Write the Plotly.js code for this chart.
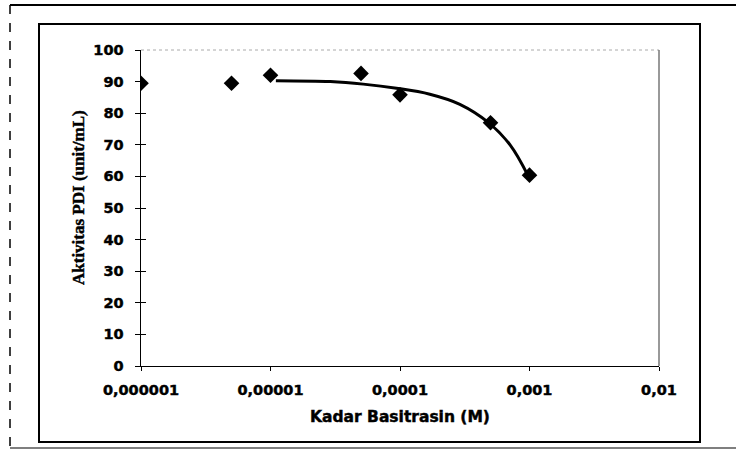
<!DOCTYPE html>
<html>
<head>
<meta charset="utf-8">
<script src="https://cdn.plot.ly/plotly-3.0.1.min.js"></script>
<style>
html,body{margin:0;padding:0;background:#fff;}
#chart{width:736px;height:450px;}
#chart text{stroke:#000;stroke-width:0.45px;}
</style>
</head>
<body>
<div id="chart"></div>
<script>
// Measured data (concentration in M, activity in unit/mL)
const concentrations = [0.000001, 0.000005, 0.00001, 0.00005, 0.0001, 0.0005, 0.001];
const activity = [89.5, 89.5, 92.0, 92.6, 85.8, 77.0, 60.4];

// Trend curve
const trendX = [0.000011, 0.000029, 0.000052, 0.000094, 0.00017, 0.00029, 0.000483, 0.00071, 0.00097];
const trendY = [90.3, 90.0, 89.2, 87.9, 86.0, 82.8, 77.0, 69.9, 60.4];

// Tick labels
const xTickVals = [0.000001, 0.00001, 0.0001, 0.001, 0.01];
const xTickText = ["0,000001", "0,00001", "0,0001", "0,001", "0,01"];

const L = 141, R = 659, T = 50, B = 366; // plot area in pixels
const px = x => (x - L) / (R - L);
const py = y => (B - y) / (B - T);

const tickFont = {family: "DejaVu Sans", size: 14.5, color: "#000", weight: "bold"};

const traces = [
  {
    x: trendX, y: trendY, type: "scatter", mode: "lines",
    line: {color: "#000", width: 3, shape: "spline", smoothing: 1},
    hoverinfo: "skip", showlegend: false
  },
  {
    x: concentrations, y: activity, type: "scatter", mode: "markers",
    yaxis: "y2",
    marker: {symbol: "diamond", size: 12, color: "#000"},
    showlegend: false
  }
];

const layout = {
  width: 736, height: 450,
  margin: {l: L, r: 736 - R, t: T, b: 450 - B, pad: 0},
  paper_bgcolor: "#fff", plot_bgcolor: "#fff",
  showlegend: false,
  xaxis: {
    type: "log", range: [-6, -2],
    tickvals: xTickVals, ticktext: xTickText,
    ticks: "outside", ticklen: 4, tickcolor: "#000", tickwidth: 1,
    showline: true, linecolor: "#000", linewidth: 1,
    showgrid: false, zeroline: false,
    tickfont: tickFont,
    ticklabelstandoff: 7
  },
  yaxis: {
    range: [0, 100], dtick: 10,
    ticks: "outside", ticklen: 5, tickcolor: "#000", tickwidth: 1,
    showline: true, linecolor: "#000", linewidth: 1.5,
    showgrid: false, zeroline: false,
    tickfont: tickFont,
    ticklabelstandoff: 8
  },
  yaxis2: {
    overlaying: "y", side: "left", anchor: "x",
    range: [0, 100], dtick: 10,
    ticks: "inside", ticklen: 5, tickcolor: "#000", tickwidth: 1,
    showline: false, showgrid: false, zeroline: false,
    showticklabels: false
  },
  annotations: [
    {
      text: "Kadar Basitrasin (M)", xref: "paper", yref: "paper",
      x: px(400), y: py(417), xanchor: "center", yanchor: "middle",
      showarrow: false,
      font: {family: "DejaVu Sans", size: 15.5, color: "#000", weight: "bold"}
    },
    {
      text: "Aktivitas PDI (unit/mL)", xref: "paper", yref: "paper",
      x: px(78), y: py(198), xanchor: "center", yanchor: "middle",
      textangle: -90, showarrow: false,
      font: {family: "Liberation Serif", size: 17, color: "#000", weight: "bold"}
    }
  ],
  shapes: [
    // plot area top and right borders
    {type: "line", xref: "paper", yref: "paper", x0: 0, x1: 1, y0: 1, y1: 1,
     line: {color: "#aaa", width: 1, dash: "dot"}},
    {type: "line", xref: "paper", yref: "paper", x0: 1, x1: 1, y0: 0, y1: 1,
     line: {color: "#777", width: 1.5}},
    // inner chart frame
    {type: "rect", xref: "paper", yref: "paper",
     x0: px(39), x1: px(700), y0: py(442), y1: py(24),
     line: {color: "#000", width: 2}},
    // outer frame
    {type: "line", xref: "paper", yref: "paper", x0: px(10), x1: px(736), y0: py(5), y1: py(5),
     line: {color: "#000", width: 2}},
    {type: "line", xref: "paper", yref: "paper", x0: px(10), x1: px(10), y0: py(5), y1: py(450),
     line: {color: "#000", width: 1.5, dash: "dash"}},
    {type: "line", xref: "paper", yref: "paper", x0: px(10), x1: px(736), y0: py(448), y1: py(448),
     line: {color: "#555", width: 1.5}}
  ]
};

Plotly.newPlot("chart", traces, layout, {displayModeBar: false, staticPlot: true});
</script>
</body>
</html>
